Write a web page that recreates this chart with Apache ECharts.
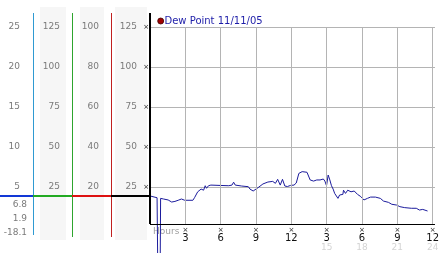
<!DOCTYPE html>
<html><head><meta charset="utf-8">
<script src="https://cdn.jsdelivr.net/npm/echarts@6/dist/echarts.min.js"></script>
<style>html,body{margin:0;padding:0;background:#fff}#c{width:442px;height:253px}</style>
</head><body><div id="c"></div>
<script>
// ---- data ----
const seriesName = 'Dew Point 11/11/05';
const hours = [0,0.6,0.64,0.65,0.87,0.9,1.15,1.54,1.84,2.12,2.39,2.67,2.95,3.64,3.78,4.05,4.34,4.47,4.55,4.69,4.8,4.97,5.17,5.86,6.69,6.96,7.1,7.24,7.38,7.79,8.35,8.49,8.76,8.9,9.18,9.59,10.01,10.42,10.65,10.84,11.06,11.25,11.45,11.67,11.94,12.23,12.42,12.64,12.92,13.33,13.6,13.89,14.16,14.44,14.72,14.85,14.99,15.13,15.27,15.41,15.55,15.68,15.82,15.96,16.1,16.24,16.38,16.43,16.6,16.79,17.07,17.34,17.62,17.9,18.17,18.46,18.73,19.14,19.56,19.83,20.25,20.53,20.95,21.22,21.63,22.19,22.61,22.88,23.16,23.57];
const dew = [19.4,18.3,18.2,-18.1,-18.1,17.9,17.5,16.9,15.6,16,16.7,17.5,16.7,16.7,18.3,22,23.7,24.8,23,25.8,24.2,25.8,26.2,26,25.8,26.2,28,26.2,25.6,25.6,25.2,23.7,22.5,23.5,24.6,26.9,28.1,28.5,27.3,29.8,26.2,29.8,25.6,25.3,26,26.2,27.5,33.5,34.6,34.2,29.4,28.7,29.4,29.4,30,28.7,25.8,32.5,29.4,25.8,23.7,21,22,17.9,20,19,20.4,23,21,23,22,22.5,20.4,19,16.9,17.9,18.7,18.7,17.9,16.2,15.4,14.2,13.7,12.7,12.1,11.7,11.7,10.6,11,10];
const mainTicks = [25,50,75,100,125];
const scaleATicks = [5,10,15,20,25];
const scaleBTicks = [25,50,75,100,125];
const scaleCTicks = [20,40,60,80,100];
const scaleDTicks = [25,50,75,100,125];
const xTicks = [3,6,9,12,15,18,21,24];
const xTickLabels = ['3','6','9','12','3','6','9','12'];
const xTickLabels24 = ['','','','','15','18','21','24'];
const valueLabels = ['6.8','1.9','-18.1'];
const xUnit = 'Hours';

// ---- chart ----
const F = 'DejaVu Sans';
const yBottom = parseFloat(valueLabels[1]);
const yMax = 133.75;
const xMax = 24.2;
function scaleAxis(ticks, factor, offset){
  const iv = ticks[1]-ticks[0];
  return {type:'value', position:'left', offset:offset, min:0, max:yMax*factor, interval:iv,
    axisLine:{show:false}, axisTick:{show:false}, splitLine:{show:false},
    axisLabel:{margin:0, color:'#7a7a7a', fontFamily:F, fontSize:9,
      showMinLabel:false, showMaxLabel:false,
      formatter:v=>ticks.indexOf(v)>=0?String(v):''}};
}
const chart = echarts.init(document.getElementById('c'));
const vlines = xTicks.map(h=>[{coord:[h,yBottom]},{coord:[h,mainTicks[mainTicks.length-1]]}]);
chart.setOption({
  animation:false,
  grid:{left:150, right:0, top:13, bottom:26},
  legend:{show:true, left:159.5, top:15, padding:0, icon:'none', itemWidth:0, itemHeight:12,
    data:[{name:seriesName}],
    textStyle:{color:'#1c1ca8', fontFamily:F, fontSize:10}},
  xAxis:{type:'value', min:0, max:xMax, interval:3,
    axisLine:{show:false}, axisTick:{show:false}, splitLine:{show:false},
    axisLabel:{margin:0, showMaxLabel:false, formatter:v=>{
      const i = xTicks.indexOf(v); if(i<0) return '';
      let s = '{s|×}\n{n|'+xTickLabels[i]+'}';
      if(xTickLabels24[i]) s += '\n{f|'+xTickLabels24[i]+'}';
      return s;},
      rich:{s:{fontSize:7, lineHeight:6, color:'#222', fontFamily:F},
            n:{fontSize:10, lineHeight:10, color:'#111', fontFamily:F},
            f:{fontSize:9, lineHeight:10, color:'#d4d4d4', fontFamily:F}}}},
  yAxis:[
    {type:'value', position:'left', min:0, max:yMax, interval:25,
      axisLine:{show:false}, axisTick:{show:false},
      splitLine:{show:true, showMinLine:false, showMaxLine:false, lineStyle:{color:'#b4b4b4', width:1}},
      axisLabel:{margin:1, fontSize:7, color:'#222', fontFamily:F, showMinLabel:false, showMaxLabel:false,
        formatter:v=>mainTicks.indexOf(v)>=0?'×':''}},
    scaleAxis(scaleATicks, 0.2, 130),
    scaleAxis(scaleBTicks, 1, 90),
    scaleAxis(scaleCTicks, 0.8, 51),
    scaleAxis(scaleDTicks, 1, 13)
  ],
  series:[{name:seriesName, type:'line', clip:false, showSymbol:false, symbol:'none',
    data:hours.map((h,i)=>[h,dew[i]]),
    lineStyle:{color:'#1b1b9c', width:1}, itemStyle:{color:'#1b1b9c'}, z:3,
    markLine:{silent:true, symbol:'none', label:{show:false}, animation:false,
      lineStyle:{color:'#b4b4b4', width:1, type:'solid'},
      data: vlines.concat([
        [{coord:[0,yBottom], lineStyle:{color:'#000', width:1, type:'solid'}},{coord:[xMax,yBottom]}],
        [{coord:[0,yBottom], lineStyle:{color:'#000', width:2, type:'solid'}},{coord:[0,yMax]}]
      ])}}]
});
const yCur = chart.convertToPixel({yAxisIndex:0}, dew[0]);
const gr = [];
[[40,26],[80,24],[115,32]].forEach(p=>gr.push({type:'rect', z:-10, shape:{x:p[0],y:7,width:p[1],height:233}, style:{fill:'#f6f6f6'}}));
[[33,'#2f9ad2',235],[72,'#2ea52e',237],[111,'#c02020',237]].forEach(p=>gr.push({type:'rect', z:2, shape:{x:p[0],y:13,width:1,height:p[2]-13}, style:{fill:p[1]}}));
[[0,33,'#1238d6'],[33,72,'#22aa22'],[72,111,'#dd1111'],[111,149,'#000']].forEach(p=>gr.push({type:'line', z:5, shape:{x1:p[0],y1:yCur,x2:p[1],y2:yCur}, style:{stroke:p[2], lineWidth:2}}));
[[204.5,valueLabels[0]],[218.7,valueLabels[1]],[232.3,valueLabels[2]]].forEach(p=>gr.push({type:'text', x:27, y:p[0], style:{text:p[1], fill:'#7a7a7a', font:'9px "DejaVu Sans"', align:'right', verticalAlign:'middle'}}));
gr.push({type:'text', x:153, y:232, style:{text:xUnit, fill:'#a0a0a0', font:'9px "DejaVu Sans"', align:'left', verticalAlign:'middle'}});
gr.push({type:'circle', z:5, shape:{cx:160.7, cy:21, r:3}, style:{fill:'#a00000', stroke:'#400000', lineWidth:0.8}});
chart.setOption({graphic:gr});
</script></body></html>
